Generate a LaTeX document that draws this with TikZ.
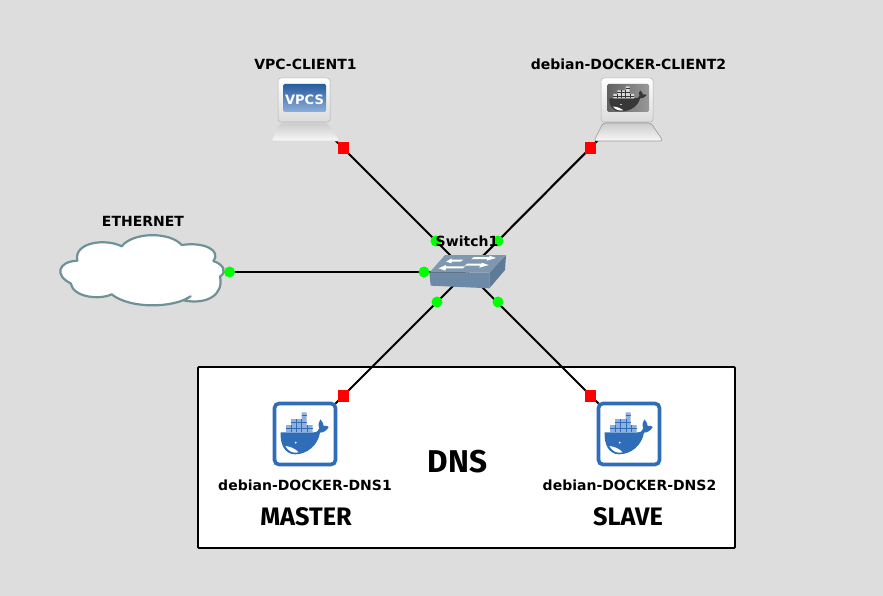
\documentclass[tikz,border=0pt]{standalone}
\usepackage{fontspec}
\setmainfont{DejaVu Sans}
\newfontfamily\titlefont[BoldFont={Fira Sans Bold}]{Fira Sans}
\definecolor{bgc}{HTML}{DDDDDD}
\definecolor{dock}{HTML}{2F6DB9}
\definecolor{dockl}{HTML}{8FB0DC}
\definecolor{cloudc}{HTML}{6E9296}
\definecolor{swtop}{HTML}{8098AF}
\definecolor{swfront}{HTML}{6C8AA8}
\definecolor{swside}{HTML}{5E7A97}
\tikzset{
  hub/.style={inner sep=0pt,minimum size=1pt},
  link/.style={draw=black,line width=2.1pt},
  upport/.style={circle,fill=green,inner sep=0pt,minimum size=11pt},
  downport/.style={rectangle,fill=red,inner sep=0pt,minimum size=11.5pt},
  devlabel/.style={font=\bfseries\fontsize{14}{16}\selectfont,text=black,inner sep=0pt},
  biglabel/.style={font=\titlefont\bfseries\fontsize{25.3}{28}\selectfont,text=black,inner sep=0pt},
}
\newcommand{\whaleshape}[3]{%
  \fill[#1] (62,127) -- (160,127) .. controls (170,128) and (176,122) .. (178,115)
    .. controls (174,105) and (176,95) .. (181,88)
    .. controls (188,95) and (191,102) .. (191,108)
    .. controls (197,106) and (203,107) .. (206,111)
    .. controls (200,122) and (190,128) .. (180,128)
    .. controls (174,165) and (142,193) .. (105,193)
    .. controls (72,192) and (60,160) .. (62,127) -- cycle;
  \fill[#3] (76,168) .. controls (92,170) and (106,176) .. (116,187)
    .. controls (98,192) and (84,182) .. (76,168) -- cycle;
  \fill[#3] (107,158) circle (3);
  \fill[#2] (78,105) rectangle (158,127) (93,87) rectangle (140,105) (125,67) rectangle (140,87);
  \draw[#1,line width=.35pt] (93,105) -- (93,127) (109,105) -- (109,127) (125,105) -- (125,127) (141,105) -- (141,127)
    (109,87) -- (109,105) (125,87) -- (125,105) (125,77) -- (140,77) (125,96) -- (140,96) (93,96) -- (125,96) (78,116) -- (158,116);
}
\newcommand{\pcbody}[2]{%
  \begin{scope}[shift={(#1)}]
    \fill[black!22] (-23,8) rectangle (21,16);
    \shade[top color=white,bottom color=black!14,rounded corners=3pt]
      (-27,-32) rectangle (25,12);
    \shade[top color=black!20,bottom color=black!3,draw=#2,line width=.6pt,rounded corners=2.5pt]
      (-25,13) -- (23,13) -- (35,31) -- (-34,31) -- cycle;
    \draw[black!30,line width=.5pt,rounded corners=3pt] (-27,-32) rectangle (25,12);
  \end{scope}}
\begin{document}
\begin{tikzpicture}[x=1pt,y=-1pt]
\useasboundingbox (0,0) rectangle (883,596);
\fill[bgc] (0,0) rectangle (883,596);
\node[draw=black,fill=white,line width=1.8pt,rounded corners=1pt,inner sep=0pt,minimum width=537pt,minimum height=181pt] (dnsbox) at (466.5,457.5) {};
\node[hub] (client1) at (305,110) {};
\node[hub] (client2) at (628,110) {};
\node[hub] (dns1) at (305,434) {};
\node[hub] (dns2) at (629,434) {};
\node[hub] (eth) at (142,272) {};
\node[hub] (sw) at (467,272) {};
\draw[link] (client1) -- (sw);
\draw[link] (client2) -- (sw);
\draw[link] (dns1) -- (sw);
\draw[link] (dns2) -- (sw);
\draw[link] (eth) -- (sw);
\pcbody{305,110}{bgc}
\shade[top color=dock!85!black,bottom color=dock!55,rounded corners=1.5pt] (283,84) rectangle (326,112);
\node[font=\bfseries\fontsize{13}{15}\selectfont,text=white,inner sep=0pt] (vpcs) at (304.5,100) {VPCS};
\pcbody{628,110}{black!40}
\shade[left color=black!62,right color=black!40,rounded corners=1.5pt] (607,84) rectangle (649,112);
\begin{scope}[shift={(628,98.5)},xscale=.26,yscale=.2,shift={(-134,-128)}]
  \whaleshape{black!78}{black!15}{white}
\end{scope}
\begin{scope}[shift={(305,434)}]
  \draw[dock,fill=white,line width=3.6pt,rounded corners=4.5pt] (-30.5,-30.5) rectangle (30.5,30.5);
  \begin{scope}[scale=1/3,shift={(-135,-132)}]
    \whaleshape{dock}{dockl}{white}
  \end{scope}
\end{scope}
\begin{scope}[shift={(629,434)}]
  \draw[dock,fill=white,line width=3.6pt,rounded corners=4.5pt] (-30.5,-30.5) rectangle (30.5,30.5);
  \begin{scope}[scale=1/3,shift={(-135,-132)}]
    \whaleshape{dock}{dockl}{white}
  \end{scope}
\end{scope}
\begin{scope}[shift={(50,225)},scale=1/3]
  \filldraw[fill=white,draw=cloudc,line width=2.2pt,line join=round]
    (82,107) .. controls (22,110) and (14,152) .. (62,175)
    .. controls (70,218) and (150,225) .. (185,208)
    .. controls (240,252) and (370,250) .. (422,214)
    -- (400,226) .. controls (470,240) and (522,210) .. (510,155)
    .. controls (532,140) and (520,118) .. (490,108)
    .. controls (515,75) and (460,50) .. (395,60)
    .. controls (360,20) and (250,20) .. (215,64)
    .. controls (170,40) and (70,50) .. (82,107) -- cycle;
\end{scope}
\begin{scope}[shift={(410,225)},scale=1/3,line join=round]
  \fill[swfront] (58,143) -- (238,143) -- (238,190) -- (62,182) -- cycle;
  \fill[swside] (238,143) -- (288,90) -- (285,135) -- (238,190) -- cycle;
  \fill[swtop] (58,143) -- (105,90) -- (288,90) -- (238,143) -- cycle;
  \fill[white] (108,110) -- (125,100) -- (125,104) -- (160,104) -- (152,110) -- (125,110) -- (125,115) -- cycle;
  \fill[white] (258,99) -- (238,92) -- (238,96) -- (192,96) -- (184,102) -- (232,102) -- (230,107) -- cycle;
  \fill[white] (86,130) -- (108,120) -- (108,124) -- (166,124) -- (158,130) -- (108,130) -- (106,137) -- cycle;
  \fill[white] (236,120) -- (215,113) -- (215,116) -- (172,116) -- (164,122) -- (210,122) -- (208,128) -- cycle;
\end{scope}
\node[downport] (p1) at (343.5,148) {};
\node[downport] (p2) at (590.5,148) {};
\node[downport] (p3) at (343.5,396) {};
\node[downport] (p4) at (590.5,396) {};
\node[upport] (g1) at (436,241) {};
\node[upport] (g2) at (498,241) {};
\node[upport] (g3) at (424,272) {};
\node[upport] (g4) at (437,302) {};
\node[upport] (g5) at (498,302) {};
\node[upport] (g6) at (229.5,272) {};
\node[devlabel] (l1) at (305.5,64.5) {VPC-CLIENT1};
\node[devlabel] (l2) at (628.5,64.5) {debian-DOCKER-CLIENT2};
\node[devlabel] (l3) at (143,221.5) {ETHERNET};
\node[devlabel] (l4) at (467,241) {Switch1};
\node[devlabel] (l5) at (305,485) {debian-DOCKER-DNS1};
\node[devlabel] (l6) at (629.5,485) {debian-DOCKER-DNS2};
\node[biglabel,font=\titlefont\bfseries\fontsize{31.5}{34}\selectfont] (t1) at (457.5,462) {DNS};
\node[biglabel] (t2) at (306,516.5) {MASTER};
\node[biglabel] (t3) at (628,516.5) {SLAVE};
\end{tikzpicture}
\end{document}
